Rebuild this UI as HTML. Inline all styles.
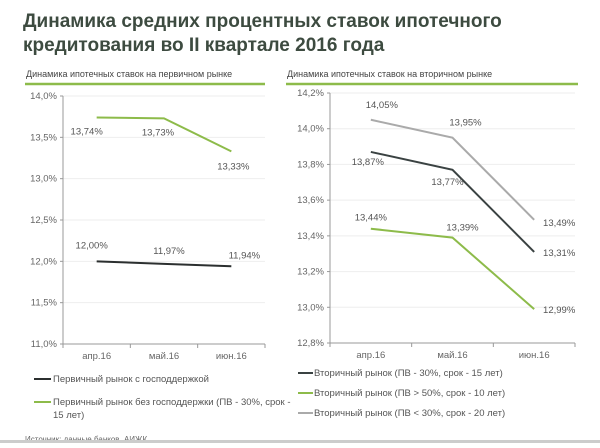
<!DOCTYPE html>
<html><head><meta charset="utf-8">
<style>
body{margin:0;background:#fff;}
svg text{font-family:"Liberation Sans","DejaVu Sans",sans-serif;}
</style></head>
<body>
<svg width="600" height="443" viewBox="0 0 600 443" xmlns="http://www.w3.org/2000/svg">
<text x="23" y="27" font-size="19" font-weight="bold" fill="#3d4b40">Динамика  средних процентных ставок ипотечного</text>
<text x="23" y="51" font-size="19" font-weight="bold" fill="#3d4b40">кредитования во II квартале 2016 года</text>
<text x="26" y="77" font-size="9" fill="#444">Динамика ипотечных ставок на первичном рынке</text>
<line x1="25" y1="84" x2="265" y2="84" stroke="#8dbb4a" stroke-width="2.5"/>
<text x="287" y="77" font-size="9" fill="#444">Динамика ипотечных ставок на вторичном рынке</text>
<line x1="286" y1="84" x2="578" y2="84" stroke="#8dbb4a" stroke-width="2.5"/>
<g id="left"></g>
<g id="right"></g>
<line x1="34" y1="379" x2="51" y2="379" stroke="#2b2f2f" stroke-width="2"/>
<text x="53" y="382" font-size="9.5" fill="#555">Первичный рынок с господдержкой</text>
<line x1="34" y1="402" x2="51" y2="402" stroke="#8dbb4a" stroke-width="2"/>
<text x="53" y="405" font-size="9.5" fill="#555">Первичный рынок без господдержки (ПВ - 30%, срок -</text>
<text x="53" y="418" font-size="9.5" fill="#555">15 лет)</text>
<line x1="298" y1="373" x2="313" y2="373" stroke="#3a4242" stroke-width="2"/>
<text x="314" y="376" font-size="9.5" fill="#555">Вторичный рынок (ПВ - 30%, срок - 15 лет)</text>
<line x1="298" y1="393" x2="313" y2="393" stroke="#8dbb4a" stroke-width="2"/>
<text x="314" y="396" font-size="9.5" fill="#555">Вторичный рынок (ПВ &gt; 50%, срок - 10 лет)</text>
<line x1="298" y1="413" x2="313" y2="413" stroke="#aaa" stroke-width="2"/>
<text x="314" y="416" font-size="9.5" fill="#555">Вторичный рынок (ПВ &lt; 30%, срок - 20 лет)</text>
<text x="25" y="442" font-size="8" fill="#666">Источник: данные банков, АИЖК</text>
<rect x="0" y="440" width="600" height="3" fill="#ccc"/>
</svg>
<script>
const categories = ["апр.16","май.16","июн.16"];
const leftTicks = [11.0,11.5,12.0,12.5,13.0,13.5,14.0];
const leftSupport = [12.00,11.97,11.94];
const leftNoSupport = [13.74,13.73,13.33];
const rightTicks = [12.8,13.0,13.2,13.4,13.6,13.8,14.0,14.2];
const secondary30 = [13.87,13.77,13.31];
const secondary50 = [13.44,13.39,12.99];
const secondaryLt30 = [14.05,13.95,13.49];

const NS="http://www.w3.org/2000/svg";
function mk(tag,attrs,parent){const e=document.createElementNS(NS,tag);for(const k in attrs)e.setAttribute(k,attrs[k]);parent.appendChild(e);return e;}
function fmt(v,d){return v.toFixed(d).replace('.',',')+'%';}

function chart(g,cfg){
  const {x0,x1,yTop,yBot,min,max,ticks,series}=cfg;
  const n=categories.length, bw=(x1-x0)/n;
  const xs=i=>x0+bw*(i+0.5);
  const ys=v=>yBot-(v-min)/(max-min)*(yBot-yTop);
  ticks.forEach(t=>{
    const y=ys(t);
    if(t!==min){const gl=mk('line',{x1:x0,x2:x1,y1:y,y2:y,stroke:'#eeeeee','stroke-width':1},g);
    
    }
    const tk=mk('line',{x1:x0-3,x2:x0,y1:y,y2:y,stroke:'#999'},g);
    
    
    const tl=mk('text',{x:x0-6,y:y+3,'font-size':9.5,fill:'#666','text-anchor':'end'},g);
    tl.textContent=fmt(t,1);
    
    
  });
  const ya=mk('line',{x1:x0,x2:x0,y1:yTop,y2:yBot,stroke:'#999'},g);
  
  
  const xa=mk('line',{x1:x0,x2:x1,y1:yBot,y2:yBot,stroke:'#999'},g);
  
  
  for(let i=0;i<=n;i++){
    const t=mk('line',{x1:x0+bw*i,x2:x0+bw*i,y1:yBot,y2:yBot+4,stroke:'#999'},g);
    
    
  }
  categories.forEach((c,i)=>{
    const t=mk('text',{x:xs(i),y:yBot+15,'font-size':9.5,fill:'#666','text-anchor':'middle'},g);
    t.textContent=c;
    
    
  });
  series.forEach(s=>{
    const pl=mk('polyline',{points:s.vals.map((v,i)=>xs(i)+','+ys(v)).join(' '),fill:'none',stroke:s.color,'stroke-width':2},g);
    
    
    s.vals.forEach((v,i)=>{
      const t=mk('text',{x:xs(i)+s.dx[i],y:ys(v)+s.dy[i],'font-size':9.5,fill:'#555','text-anchor':'middle'},g);
      t.textContent=fmt(v,2);
      
      
    });
  });
}
chart(document.getElementById('left'),{x0:63,x1:265,yTop:96,yBot:344,min:11,max:14,ticks:leftTicks,series:[
  {name:'line-primary-nosupport',vals:leftNoSupport,color:'#8dbb4a',dx:[-10,-6,2],dy:[17,17,18]},
  {name:'line-primary-support',vals:leftSupport,color:'#2b2f2f',dx:[-5,5,13],dy:[-13,-10,-8]}
]});
chart(document.getElementById('right'),{x0:330,x1:575,yTop:93,yBot:343,min:12.8,max:14.2,ticks:rightTicks,series:[
  {name:'line-secondary-lt30',vals:secondaryLt30,color:'#aaaaaa',dx:[11,13,25],dy:[-12,-12,6]},
  {name:'line-secondary-30',vals:secondary30,color:'#3a4242',dx:[-3,-5,25],dy:[13,15,4]},
  {name:'line-secondary-50',vals:secondary50,color:'#8dbb4a',dx:[0,10,25],dy:[-8,-7,4]}
]});
</script>
</body></html>
